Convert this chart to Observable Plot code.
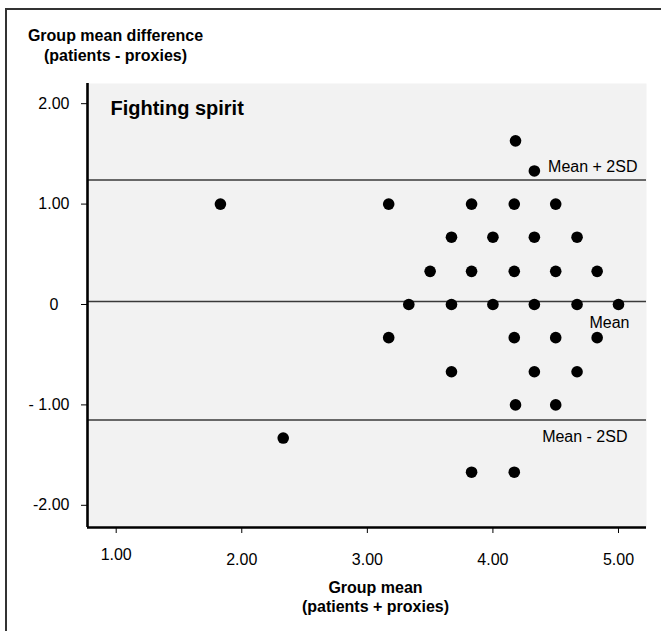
<!DOCTYPE html>
<html>
<head>
<meta charset="utf-8">
<script src="https://cdn.jsdelivr.net/npm/d3@7"></script>
<script src="https://cdn.jsdelivr.net/npm/@observablehq/plot@0.6"></script>
<style>
  html, body { margin: 0; padding: 0; background: white; }
  #wrap { position: relative; width: 661px; height: 631px; overflow: hidden; }
  #border { position: absolute; left: 5px; top: 8px; right: -10px; bottom: -10px;
            border-top: 2px solid #333; border-left: 2px solid #333; pointer-events: none; }
</style>
</head>
<body>
<div id="wrap"><div id="border"></div></div>
<script>
// Data (Bland-Altman plot, "Fighting spirit")
const groupMean = [
  4.18,
  4.33,
  1.83, 3.17, 3.83, 4.17, 4.5,
  3.67, 4.0, 4.33, 4.67,
  3.5, 3.83, 4.17, 4.5, 4.83,
  3.33, 3.67, 4.0, 4.33, 4.67, 5.0,
  3.17, 4.17, 4.5, 4.83,
  3.67, 4.33, 4.67,
  4.18, 4.5,
  2.33,
  3.83, 4.17
];
const meanDiff = [
  1.63,
  1.33,
  1.0, 1.0, 1.0, 1.0, 1.0,
  0.67, 0.67, 0.67, 0.67,
  0.33, 0.33, 0.33, 0.33, 0.33,
  0, 0, 0, 0, 0, 0,
  -0.33, -0.33, -0.33, -0.33,
  -0.67, -0.67, -0.67,
  -1.0, -1.0,
  -1.33,
  -1.67, -1.67
];
const refValues = [1.24, 0.03, -1.15];
const refLabels = ["Mean + 2SD", "Mean", "Mean - 2SD"];

const xTicks = [1, 2, 3, 4, 5];
const xTickLabels = ["1.00", "2.00", "3.00", "4.00", "5.00"];
const yTicks = [2, 1, 0, -1, -2];
const yTickLabels = ["2.00", "1.00", "0", "- 1.00", "-2.00"];
const xDomain = [0.7715, 5.223];
const yDomain = [-2.221, 2.201];

const panelTitle = "Fighting spirit";
const yTitle = ["Group mean difference", "(patients - proxies)"];
const xTitle = ["Group mean", "(patients + proxies)"];

const points = groupMean.map((x, i) => ({x, y: meanDiff[i]}));
const xLab = d => xTickLabels[xTicks.indexOf(d)];
const yLab = d => yTickLabels[yTicks.indexOf(d)];

const font = "'Liberation Sans', Arial, sans-serif";

const chart = Plot.plot({
  width: 661,
  height: 631,
  marginLeft: 87,
  marginRight: 15,
  marginTop: 83,
  marginBottom: 104,
  style: {fontFamily: font, fontSize: "16px", background: "transparent", color: "black", overflow: "visible"},
  x: {domain: xDomain},
  y: {domain: yDomain},
  marks: [
    Plot.frame({fill: "#f2f2f2", stroke: null}),
    Plot.ruleY(refValues, {stroke: "#3a3a3a", strokeWidth: 1.6}),
    Plot.ruleX([xDomain[0]], {stroke: "black", strokeWidth: 2.6}),
    Plot.ruleY([yDomain[0]], {stroke: "black", strokeWidth: 2.6}),
    Plot.axisY(yTicks.filter(d => d !== 0), {tickSize: 6, tickPadding: 12, tickFormat: yLab, fontSize: 16, label: null}),
    Plot.axisY([0], {tickSize: 6, tickPadding: 23, tickFormat: yLab, fontSize: 16, label: null}),
    Plot.axisX([1], {tickSize: 6, tickPadding: 15, tickFormat: xLab, fontSize: 16, label: null}),
    Plot.axisX(xTicks.filter(d => d !== 1), {tickSize: 6, tickPadding: 20, tickFormat: xLab, fontSize: 16, label: null}),
    Plot.dot(points, {x: "x", y: "y", r: 5.8, fill: "black", stroke: null}),
    Plot.text([refLabels[0]], {y: () => refValues[0], frameAnchor: "right", textAnchor: "end", lineAnchor: "middle", dx: -9, dy: -13, fontSize: 16}),
    Plot.text([refLabels[1]], {y: () => refValues[1], frameAnchor: "right", textAnchor: "end", lineAnchor: "middle", dx: -17, dy: 21, fontSize: 16}),
    Plot.text([refLabels[2]], {y: () => refValues[2], frameAnchor: "right", textAnchor: "end", lineAnchor: "middle", dx: -19, dy: 16.5, fontSize: 16}),
    Plot.text([panelTitle], {frameAnchor: "top-left", textAnchor: "start", lineAnchor: "middle", dx: 23, dy: 24.7, fontSize: 20, fontWeight: "bold"}),
    Plot.text([yTitle[0]], {frameAnchor: "top-left", textAnchor: "middle", lineAnchor: "middle", dx: 28, dy: -48, fontSize: 16, fontWeight: "bold"}),
    Plot.text([yTitle[1]], {frameAnchor: "top-left", textAnchor: "middle", lineAnchor: "middle", dx: 28, dy: -28, fontSize: 16, fontWeight: "bold"}),
    Plot.text([xTitle[0]], {frameAnchor: "bottom", textAnchor: "middle", lineAnchor: "middle", dx: 8.5, dy: 60.5, fontSize: 16, fontWeight: "bold"}),
    Plot.text([xTitle[1]], {frameAnchor: "bottom", textAnchor: "middle", lineAnchor: "middle", dx: 8.5, dy: 79, fontSize: 16, fontWeight: "bold"})
  ]
});
chart.style.position = "absolute";
chart.style.left = "0px";
chart.style.top = "0px";
document.getElementById("wrap").prepend(chart);
</script>
</body>
</html>
